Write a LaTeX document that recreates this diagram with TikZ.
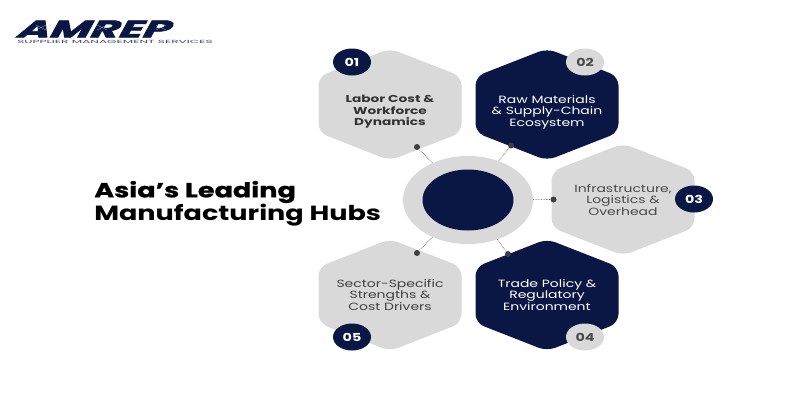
\documentclass[tikz,border=0pt]{standalone}
\usepackage{fontspec}
\setmainfont{Poppins}
\usetikzlibrary{shapes.geometric, positioning}
\definecolor{hubnavy}{HTML}{0A1744}
\definecolor{hubgrey}{HTML}{D9D9D9}
\definecolor{dotgrey}{HTML}{3F3F3F}
\definecolor{textgrey}{HTML}{4A4A4A}
\tikzstyle{hextext} = [transform shape, xscale=1.33, align=center, inner sep=0pt, font=\fontsize{10.5}{11.6}\selectfont]
\tikzstyle{badge} = [ellipse, minimum width=38pt, minimum height=27pt, inner sep=0pt, font=\fontsize{11}{12}\bfseries\selectfont]
\tikzstyle{hubdot} = [circle, fill=dotgrey, minimum size=6pt, inner sep=0pt]
\tikzstyle{link} = [dotgrey, densely dotted, semithick]
% hexagon around a centre point
\newcommand{\hexfill}[2]{
  \fill[#2, rounded corners=9pt] (#1) ++(0,-56) -- ++(71.5,28) -- ++(0,56) -- ++(-71.5,28) -- ++(-71.5,-28) -- ++(0,-56) -- cycle;
}
\newcommand{\badgenum}[1]{\scalebox{1.3}[1]{#1}}

\begin{document}
\begin{tikzpicture}[x=1pt, y=-1pt]
          \useasboundingbox (0,0) rectangle (800,400);

          % Logo
          \node[transform shape, xslant=0.55, xscale=1.83, inner sep=0pt, text=hubnavy, font=\fontsize{24}{24}\bfseries\selectfont] (logo) at (96,29) {\addfontfeature{FakeBold=2.5}AMREP};
          \foreach \x in {41,102,161} {
            \draw[white, very thin] (\x-5,25) -- (\x+5,30);
            \draw[white, very thin] (\x-5,30) -- (\x+5,25);
          }
          \node[transform shape, xscale=2.7, inner sep=0pt, text=hubnavy!80, font=\fontsize{4.5}{5}\selectfont] (tagline) at (115,41.5) {SUPPLIER MANAGEMENT SERVICES};

          % Title
          \node[transform shape, xscale=1.32, anchor=west, align=left, inner sep=0pt, text=black, font=\fontsize{20.5}{23}\bfseries\selectfont] (title) at (94,203.5) {\addfontfeature{FakeBold=0.8}Asia’s Leading\\Manufacturing Hubs};

          % Hexagons
          \hexfill{390,104.5}{hubgrey}
          \hexfill{547,104.5}{hubnavy}
          \hexfill{623,199.5}{hubgrey}
          \hexfill{547,295}{hubnavy}
          \hexfill{390,295}{hubgrey}

          % Hub
          \node[ellipse, fill=hubgrey, minimum width=130pt, minimum height=88pt, inner sep=0pt] (hub) at (468,200) {};
          \node[ellipse, fill=hubnavy, minimum width=91pt, minimum height=61pt, inner sep=0pt] (core) at (468,200) {};

          % Labels
          \node[hextext, text=black!80, font=\fontsize{10}{11.6}\bfseries\selectfont, xscale=1.03] (labor) at (390,112) {Labor Cost \&\\Workforce\\Dynamics};
          \node[hextext, text=white] (materials) at (547,112) {Raw Materials\\\& Supply-Chain\\Ecosystem};
          \node[hextext, text=textgrey] (infra) at (623,200) {Infrastructure,\\Logistics \&\\Overhead};
          \node[hextext, text=white] (trade) at (547,295) {Trade Policy \&\\Regulatory\\Environment};
          \node[hextext, text=black!75] (sector) at (390,295) {Sector-Specific\\Strengths \&\\Cost Drivers};

          % Badges
          \node[badge, fill=hubnavy, text=white] (one) at (352,62) {\badgenum{01}};
          \node[badge, fill=hubgrey, text=textgrey] (two) at (585,62) {\badgenum{02}};
          \node[badge, fill=hubnavy, text=white] (three) at (694,199) {\badgenum{03}};
          \node[badge, fill=hubgrey, text=textgrey] (four) at (585,337) {\badgenum{04}};
          \node[badge, fill=hubnavy, text=white] (five) at (352,337) {\badgenum{05}};

          % Dots
          \node[hubdot] (dotone) at (417,147) {};
          \node[hubdot] (dottwo) at (511,145.5) {};
          \node[hubdot] (dotthree) at (553.5,199.5) {};
          \node[hubdot] (dotfour) at (508,254) {};
          \node[hubdot] (dotfive) at (417,253) {};

          % Edges
          \draw[link] (hub) -- (dotone);
          \draw[link] (hub) -- (dottwo);
          \draw[link] (hub) -- (dotthree);
          \draw[link] (hub) -- (dotfour);
          \draw[link] (hub) -- (dotfive);

        \end{tikzpicture}
\end{document}
